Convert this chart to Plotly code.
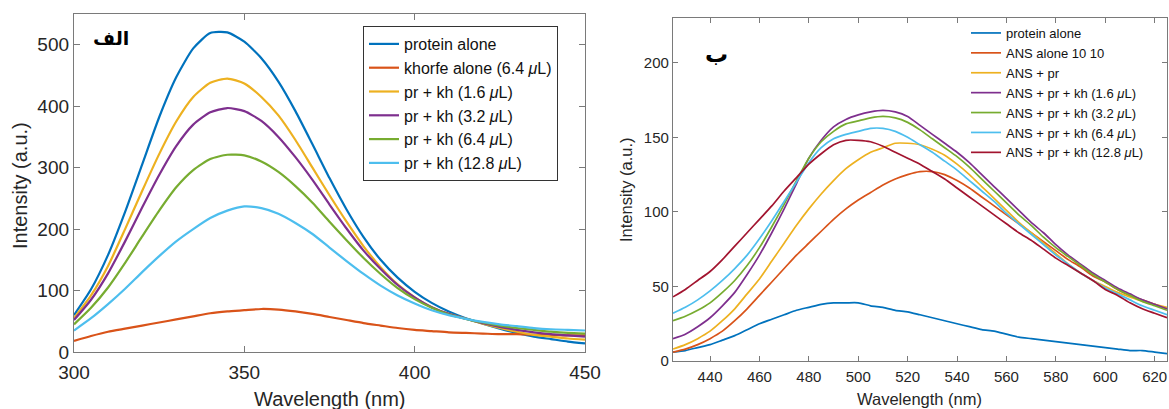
import plotly.graph_objects as go

# ---------------- Panel "الف" (left) ----------------
wl_a = list(range(300, 451, 5))
a_protein = [60, 102, 158, 228, 305, 382, 447, 494, 519, 520, 505, 478, 440, 392, 338, 283,
             232, 187, 150, 121, 98, 80, 66, 55, 46, 38, 31, 25, 21, 17, 14]
a_khorfe = [18, 26, 33, 38, 43, 48, 53, 58, 63, 66, 68, 70, 69, 66, 62, 57,
            52, 47, 43, 39, 36, 34, 32, 31, 30, 29, 29, 28, 28, 27, 27]
a_kh16 = [55, 92, 140, 200, 262, 322, 375, 415, 438, 445, 437, 415, 385, 345, 300, 255,
          212, 172, 138, 110, 89, 73, 62, 54, 46, 39, 33, 28, 25, 22, 20]
a_kh32 = [52, 85, 128, 180, 235, 288, 335, 370, 390, 397, 392, 376, 350, 317, 280, 240,
          201, 165, 135, 109, 89, 73, 62, 54, 47, 41, 36, 32, 29, 27, 25]
a_kh64 = [45, 72, 105, 145, 188, 230, 268, 296, 314, 321, 320, 310, 293, 270, 243, 212,
          182, 153, 127, 104, 86, 72, 61, 54, 48, 43, 39, 36, 33, 31, 30]
a_kh128 = [35, 55, 78, 103, 130, 156, 180, 200, 218, 230, 237, 234, 225, 210, 192, 170,
           148, 127, 108, 92, 79, 68, 60, 54, 49, 45, 42, 39, 37, 36, 35]
names_a = ["protein alone", "khorfe alone (6.4 <i>μ</i>L)", "pr + kh (1.6 <i>μ</i>L)",
           "pr + kh (3.2 <i>μ</i>L)", "pr + kh (6.4 <i>μ</i>L)", "pr + kh (12.8 <i>μ</i>L)"]

# ---------------- Panel "ب" (right) ----------------
wl_b = list(range(425, 626, 5))
b_protein = [6, 7, 9, 11, 14, 17, 21, 25, 28, 31, 34, 36, 38, 39, 39, 39, 37, 36, 34, 33, 31,
             29, 27, 25, 23, 21, 20, 18, 16, 15, 14, 13, 12, 11, 10, 9, 8, 7, 7, 6, 5]
b_ans = [6, 8, 11, 15, 20, 27, 35, 44, 53, 62, 71, 79, 87, 95, 102, 108, 113, 118, 122, 125, 127,
         127, 125, 121, 116, 110, 104, 98, 92, 86, 80, 74, 68, 63, 57, 53, 48, 44, 41, 38, 35]
b_ans_pr = [8, 11, 15, 20, 27, 35, 45, 55, 67, 79, 91, 102, 112, 121, 129, 135, 140, 143, 146, 146, 145,
            142, 138, 132, 125, 117, 109, 101, 93, 86, 79, 72, 65, 59, 54, 50, 46, 43, 40, 38, 36]
b_kh16 = [15, 18, 23, 29, 37, 46, 58, 71, 86, 102, 119, 136, 148, 157, 162, 165, 167, 168, 167, 164, 158,
          152, 146, 140, 133, 125, 117, 109, 101, 93, 86, 78, 71, 65, 59, 54, 49, 45, 41, 38, 35]
b_kh32 = [27, 30, 34, 39, 46, 54, 64, 76, 90, 105, 121, 136, 147, 154, 159, 161, 163, 164, 163, 160, 155,
          149, 143, 137, 130, 122, 114, 106, 98, 91, 83, 76, 70, 64, 58, 53, 48, 44, 40, 37, 34]
b_kh64 = [32, 36, 41, 47, 54, 62, 71, 82, 94, 107, 120, 133, 143, 149, 152, 154, 156, 156, 154, 150, 145,
          140, 134, 128, 121, 114, 107, 99, 92, 85, 78, 71, 65, 59, 54, 49, 45, 41, 37, 34, 31]
b_kh128 = [43, 48, 54, 60, 68, 77, 86, 95, 104, 114, 123, 132, 139, 145, 148, 148, 147, 144, 140, 136, 132,
           127, 122, 116, 110, 104, 98, 92, 86, 81, 75, 69, 64, 59, 54, 48, 44, 39, 35, 32, 29]
names_b = ["protein alone", "ANS alone 10 10", "ANS + pr", "ANS + pr + kh (1.6 <i>μ</i>L)",
           "ANS + pr + kh (3.2 <i>μ</i>L)", "ANS + pr + kh (6.4 <i>μ</i>L)", "ANS + pr + kh (12.8 <i>μ</i>L)"]

colors = ["#0072BD", "#D95319", "#EDB120", "#7E2F8E", "#77AC30", "#4DBEEE", "#A2142F"]
FONT = "Liberation Sans, Arial, Helvetica, sans-serif"
AX = "#7a7a7a"
TXT = "#262626"

fig = go.Figure()
for name, ys, c in zip(names_a, [a_protein, a_khorfe, a_kh16, a_kh32, a_kh64, a_kh128], colors):
    fig.add_trace(go.Scatter(x=wl_a, y=ys, name=name, mode="lines",
                             line=dict(color=c, width=2.2, shape="spline", smoothing=0.6),
                             xaxis="x", yaxis="y", legend="legend"))
for name, ys, c in zip(names_b, [b_protein, b_ans, b_ans_pr, b_kh16, b_kh32, b_kh64, b_kh128], colors):
    fig.add_trace(go.Scatter(x=wl_b, y=ys, name=name, mode="lines",
                             line=dict(color=c, width=1.7, shape="spline", smoothing=0.6),
                             xaxis="x2", yaxis="y2", legend="legend2"))

W, H = 1169, 409
def px(x):
    return x / W
def py(y):
    return 1 - y / H

common = dict(showline=True, linecolor=AX, linewidth=1.3, mirror="ticks", ticks="inside",
              tickcolor=AX, showgrid=False, zeroline=False, automargin=False)

fig.update_layout(
    width=W, height=H, margin=dict(l=0, r=0, t=0, b=0, autoexpand=False),
    paper_bgcolor="white", plot_bgcolor="white",
    font=dict(family=FONT, color=TXT),
    xaxis=dict(domain=[px(74), px(585)], range=[300, 450], tickvals=[300, 350, 400, 450],
               ticklen=6, ticklabelstandoff=3, tickfont=dict(size=19, color=TXT), anchor="y", **common),
    yaxis=dict(domain=[py(352), py(14)], range=[0, 550], tickvals=[0, 100, 200, 300, 400, 500],
               ticklen=6, tickfont=dict(size=19, color=TXT), anchor="x", **common),
    xaxis2=dict(domain=[px(673), px(1167)], range=[425, 625], tickvals=list(range(440, 621, 20)),
                ticklen=5, ticklabelstandoff=2, tickfont=dict(size=15, color=TXT), anchor="y2", **common),
    yaxis2=dict(domain=[py(361), py(18)], range=[0, 230], tickvals=[0, 50, 100, 150, 200],
                ticklen=5, tickfont=dict(size=15, color=TXT), anchor="x2", **common),
    legend=dict(x=px(363), y=py(26), xanchor="left", yanchor="top",
                bgcolor="white", bordercolor="#333333", borderwidth=1,
                font=dict(size=16, color="#111111", family=FONT), tracegroupgap=0,
                itemwidth=30),
    legend2=dict(x=px(966), y=py(18), xanchor="left", yanchor="top",
                 bgcolor="rgba(0,0,0,0)", borderwidth=0,
                 font=dict(size=13, color="#111111", family=FONT), tracegroupgap=0,
                 itemwidth=30),
    showlegend=True,
)

def ann(text, x, y, size, angle=0, color=TXT, family=FONT):
    fig.add_annotation(text=text, x=px(x), y=py(y), xref="paper", yref="paper",
                       xanchor="center", yanchor="middle", showarrow=False, textangle=angle,
                       font=dict(size=size, color=color, family=family))

ann("<b>الف</b>", 111, 38, 19, color="black", family="DejaVu Sans, Noto Sans")
ann("<b>ب</b>", 716, 54, 23, color="black", family="DejaVu Sans, Noto Sans")
ann("Wavelength (nm)", 330, 399, 20)
ann("Intensity (a.u.)", 20, 186, 20, angle=-90)
ann("Wavelength (nm)", 919, 399, 16.5)
ann("Intensity (a.u.)", 626, 190, 16.5, angle=-90)

fig.write_html("out.html", config={"displayModeBar": False},
               post_script="document.body.style.margin='0';document.body.style.padding='0';"
                           "document.body.style.overflow='hidden';")
